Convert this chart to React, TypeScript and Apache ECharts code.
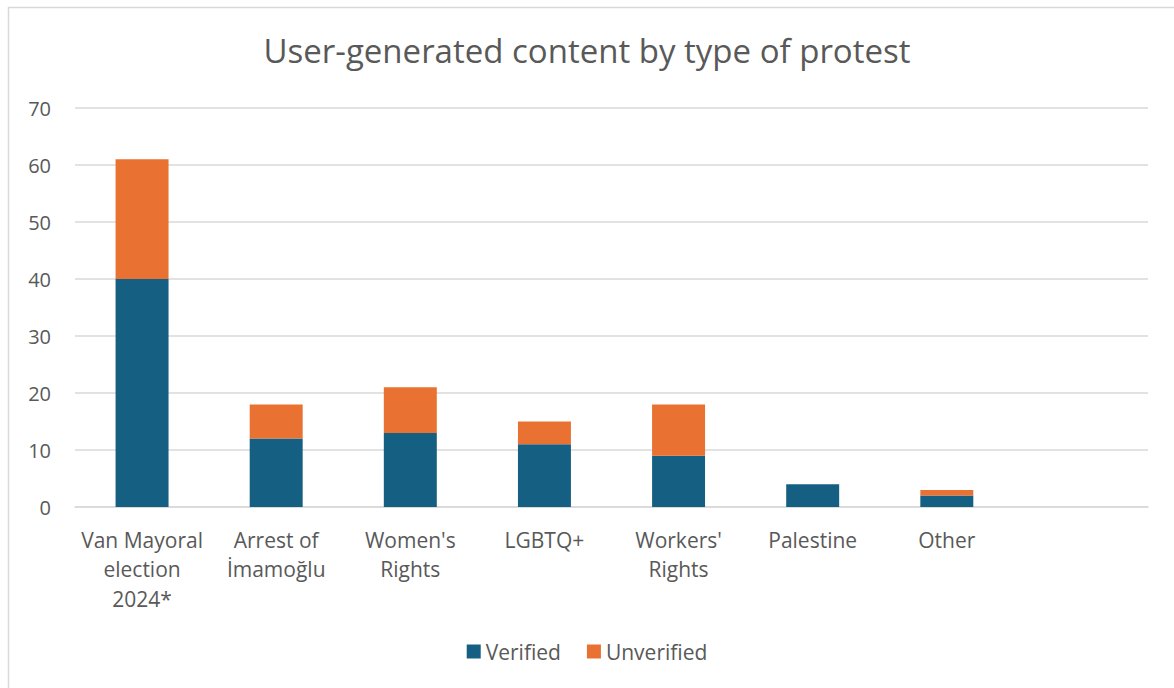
import React, { useEffect, useRef } from "react";
import * as echarts from "echarts";

const categories = [
  "Van Mayoral\nelection\n2024*",
  "Arrest of\nİmamoğlu",
  "Women's\nRights",
  "LGBTQ+",
  "Workers'\nRights",
  "Palestine",
  "Other",
  "",
];
const verified = [40, 12, 13, 11, 9, 4, 2, null];
const unverified = [21, 6, 8, 4, 9, null, 1, null];
const yTicks = { min: 0, max: 70, interval: 10 };

const FONT = "'Open Sans', 'Liberation Sans', sans-serif";
const TXT = "#595959";

export default function App() {
  const ref = useRef<HTMLDivElement>(null);
  useEffect(() => {
    document.body.style.margin = "0";
    const chart = echarts.init(ref.current!, undefined, { renderer: "svg" });
    chart.setOption({
      animation: false,
      backgroundColor: "#ffffff",
      graphic: [
        {
          type: "rect",
          shape: { x: 8.5, y: 7.5, width: 1200, height: 700 },
          style: { fill: "none", stroke: "#d9d9d9", lineWidth: 1.5 },
          silent: true,
        },
      ],
      title: {
        text: "User-generated content by type of protest",
        left: "center",
        top: 29,
        textStyle: { fontFamily: FONT, fontSize: 33, fontWeight: "normal", color: TXT },
      },
      legend: {
        bottom: 21,
        left: "center",
        itemWidth: 14,
        itemHeight: 14,
        itemGap: 26,
        icon: "rect",
        textStyle: { fontFamily: FONT, fontSize: 21, color: TXT },
        data: ["Verified", "Unverified"],
      },
      grid: { left: 75, right: 26, top: 108, bottom: 181, containLabel: false },
      xAxis: {
        type: "category",
        data: categories,
        axisLine: { lineStyle: { color: "#d9d9d9", width: 1.5 } },
        axisTick: { show: false },
        axisLabel: {
          fontFamily: FONT,
          fontSize: 21,
          color: TXT,
          lineHeight: 29.5,
          margin: 18,
          interval: 0,
        },
      },
      yAxis: {
        type: "value",
        min: yTicks.min,
        max: yTicks.max,
        interval: yTicks.interval,
        axisLine: { show: false },
        axisTick: { show: false },
        splitLine: { lineStyle: { color: "#d9d9d9", width: 1.5 } },
        axisLabel: { fontFamily: FONT, fontSize: 20, color: TXT, margin: 24 },
      },
      series: [
        {
          name: "Verified",
          type: "bar",
          stack: "total",
          data: verified,
          barWidth: "39.5%",
          itemStyle: { color: "#156082" },
        },
        {
          name: "Unverified",
          type: "bar",
          stack: "total",
          data: unverified,
          barWidth: "39.5%",
          itemStyle: { color: "#E97132" },
        },
      ],
    });
    return () => chart.dispose();
  }, []);
  return <div ref={ref} style={{ width: 1174, height: 688 }} />;
}
